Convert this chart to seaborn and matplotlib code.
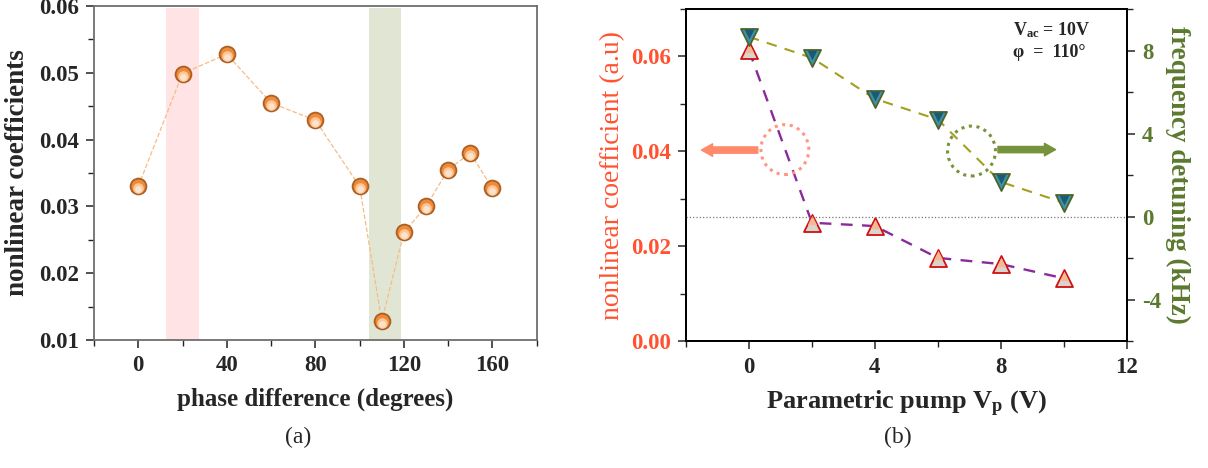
import numpy as np
import pandas as pd
import seaborn as sns
import matplotlib.pyplot as plt
from matplotlib.patches import Ellipse
from matplotlib.ticker import MultipleLocator
from matplotlib.transforms import offset_copy

# panel (a): nonlinear coefficient vs phase difference
phase_deg = [0, 20, 40, 60, 80, 100, 110, 120, 130, 140, 150, 160]
nonlin_coef = [0.0330, 0.0499, 0.0528, 0.0455, 0.0429, 0.0330,
               0.0128, 0.0261, 0.0300, 0.0355, 0.0380, 0.0327]
pink_band = (12.7, 27.3)
green_band = (104.3, 118.9)

# panel (b): parametric pump sweep
pump_v = [0, 2, 4, 6, 8, 10]
nonlin_pump = [0.0613, 0.0250, 0.0243, 0.0176, 0.0163, 0.0133]
detuning_khz = [8.66, 7.65, 5.68, 4.68, 1.68, 0.68]

sns.set_style("ticks")
plt.rcParams['font.family'] = ['Liberation Serif', 'DejaVu Serif']
plt.rcParams['mathtext.fontset'] = 'custom'
plt.rcParams['mathtext.rm'] = 'Liberation Serif'
plt.rcParams['mathtext.bf'] = 'Liberation Serif:bold'
plt.rcParams['mathtext.it'] = 'Liberation Serif:italic'
plt.rcParams['axes.unicode_minus'] = False

RED = '#FF5230'
OLIVE = '#5B7A2F'

fig = plt.figure(figsize=(12.08, 4.68), dpi=100)
ax1 = fig.add_axes([0.0778, 0.2735, 0.3665, 0.7135])
ax2 = fig.add_axes([0.5679, 0.2703, 0.3648, 0.7105])
ax2r = ax2.twinx()

# ---------------- panel (a) ----------------
ax1.axvspan(*pink_band, ymax=0.995, color='#FFE3E5', lw=0, zorder=0)
ax1.axvspan(*green_band, ymax=0.995, color='#E1E6D4', lw=0, zorder=0)
sns.lineplot(x=phase_deg, y=nonlin_coef, ax=ax1, color='#F6BC86',
             linestyle='--', lw=0.9, zorder=2)
sns.scatterplot(x=phase_deg, y=nonlin_coef, ax=ax1, s=130, color='#F0852F',
                edgecolor='#A85A1E', linewidth=1.3, zorder=3, alpha=0.95)
# lighter lower half to fake the shaded ball look
hl = offset_copy(ax1.transData, fig=fig, x=0, y=-2.0, units='dots')
ax1.scatter(phase_deg, nonlin_coef, s=58, color='#FBC79A', lw=0, zorder=4,
            transform=hl)
hl2 = offset_copy(ax1.transData, fig=fig, x=0, y=-3.0, units='dots')
ax1.scatter(phase_deg, nonlin_coef, s=24, color='#FDE3CC', lw=0, zorder=5,
            transform=hl2)

ax1.set_xlim(-20, 180)
ax1.set_ylim(0.01, 0.06)
ax1.xaxis.set_minor_locator(MultipleLocator(20))
ax1.yaxis.set_minor_locator(MultipleLocator(0.005))
ax1.set_xticks([0, 40, 80, 120, 160])
ax1.set_yticks([0.01, 0.02, 0.03, 0.04, 0.05, 0.06])
ax1.set_yticklabels(['0.01', '0.02', '0.03', '0.04', '0.05', '0.06'])
for sp in ax1.spines.values():
    sp.set_color('#6E6E6E')
    sp.set_linewidth(1.3)
ax1.tick_params(which='major', direction='out', length=6, width=1.1,
                labelsize=16.5, pad=5, color='#222222')
ax1.tick_params(which='minor', direction='out', length=4, width=1.0,
                color='#222222')
for lab in ax1.get_xticklabels() + ax1.get_yticklabels():
    lab.set_fontweight('bold')
ax1.set_xlabel('phase difference (degrees)', fontsize=18, fontweight='bold',
               labelpad=8)
ax1.set_ylabel('nonlinear coefficients', fontsize=19.5, fontweight='bold',
               labelpad=6)

# ---------------- panel (b) ----------------
ax2r.axhline(0, color='#777777', ls=':', lw=0.9, zorder=1)
sns.lineplot(x=pump_v, y=nonlin_pump, ax=ax2, color='#8A2A9C',
             linestyle=(0, (5, 4)), lw=1.7, zorder=2)
sns.scatterplot(x=pump_v, y=nonlin_pump, ax=ax2, marker='^', s=150,
                color='#D9D5CC', edgecolor='#D01010', linewidth=1.3, zorder=3)
tu = offset_copy(ax2.transData, fig=fig, x=0, y=2.5, units='dots')
ax2.scatter(pump_v, nonlin_pump, marker='^', s=45, color='#F4B894', lw=0,
            zorder=4, transform=tu)

sns.lineplot(x=pump_v, y=detuning_khz, ax=ax2r, color='#A3A020',
             linestyle=(0, (5, 4)), lw=1.5, zorder=2)
sns.scatterplot(x=pump_v, y=detuning_khz, ax=ax2r, marker='v', s=150,
                color='#3B93AE', edgecolor='#4E6328', linewidth=1.3, zorder=3)
td = offset_copy(ax2r.transData, fig=fig, x=0, y=2.5, units='dots')
ax2r.scatter(pump_v, detuning_khz, marker='v', s=50, color='#1C5A72', lw=0,
             zorder=4, transform=td)

ax2.add_patch(Ellipse((1.14, 0.0404), 1.52, 0.0105, fill=False, ls=(0, (1, 1.5)),
                      lw=2.2, ec='#FF9582', zorder=5))
ax2.add_patch(Ellipse((7.07, 0.0401), 1.52, 0.0105, fill=False, ls=(0, (1, 1.5)),
                      lw=2.2, ec='#77923C', zorder=5))
ax2.annotate('', xy=(-1.51, 0.0403), xytext=(0.28, 0.0403),
             arrowprops=dict(arrowstyle='simple,head_width=0.9,head_length=0.8,tail_width=0.45',
                             mutation_scale=10, color='#FF8A6A', shrinkA=0, shrinkB=0))
ax2.annotate('', xy=(9.74, 0.0404), xytext=(7.91, 0.0404),
             arrowprops=dict(arrowstyle='simple,head_width=0.9,head_length=0.8,tail_width=0.45',
                             mutation_scale=10, color='#77923C', shrinkA=0, shrinkB=0))

ax2.text(0.742, 0.935, r'$\mathbf{V_{ac}}$ = 10V', transform=ax2.transAxes,
         fontsize=13, fontweight='bold', ha='left', va='center')
ax2.text(0.742, 0.868, 'φ  =  110°', transform=ax2.transAxes,
         fontsize=13, fontweight='bold', ha='left', va='center')

ax2.set_xlim(-2, 12)
ax2.set_ylim(0, 0.07)
ax2r.set_ylim(-6, 10)
ax2.set_xticks([0, 4, 8, 12])
ax2.xaxis.set_minor_locator(MultipleLocator(2))
ax2.set_yticks([0.0, 0.02, 0.04, 0.06])
ax2.set_yticklabels(['0.00', '0.02', '0.04', '0.06'])
ax2.yaxis.set_minor_locator(MultipleLocator(0.01))
ax2r.set_yticks([-4, 0, 4, 8])
ax2r.yaxis.set_minor_locator(MultipleLocator(2))
for a in (ax2, ax2r):
    for sp in a.spines.values():
        sp.set_color('black')
        sp.set_linewidth(1.3)
ax2.tick_params(which='major', direction='out', length=6, width=1.1,
                labelsize=16.5, pad=5)
ax2.tick_params(which='minor', direction='out', length=4, width=1.0)
ax2.tick_params(axis='y', labelcolor=RED)
ax2r.tick_params(which='major', direction='out', length=6, width=1.1,
                 labelsize=16.5, pad=5, labelcolor=OLIVE)
ax2r.tick_params(which='minor', direction='out', length=4, width=1.0)
for lab in ax2.get_xticklabels() + ax2.get_yticklabels() + ax2r.get_yticklabels():
    lab.set_fontweight('bold')
ax2.set_xlabel(r'Parametric pump $\mathbf{V_p}$ (V)', fontsize=19,
               fontweight='bold', labelpad=8)
ax2.set_ylabel('nonlinear coefficient (a.u)', fontsize=20, color=RED,
               labelpad=4)
ax2r.set_ylabel('frequency detuning (kHz)', fontsize=19.5, fontweight='bold',
                color=OLIVE, rotation=270, labelpad=21)

fig.text(0.247, 0.066, '(a)', fontsize=17, ha='center', va='center')
fig.text(0.743, 0.066, '(b)', fontsize=17, ha='center', va='center')

fig.savefig('out.png', dpi=100)
